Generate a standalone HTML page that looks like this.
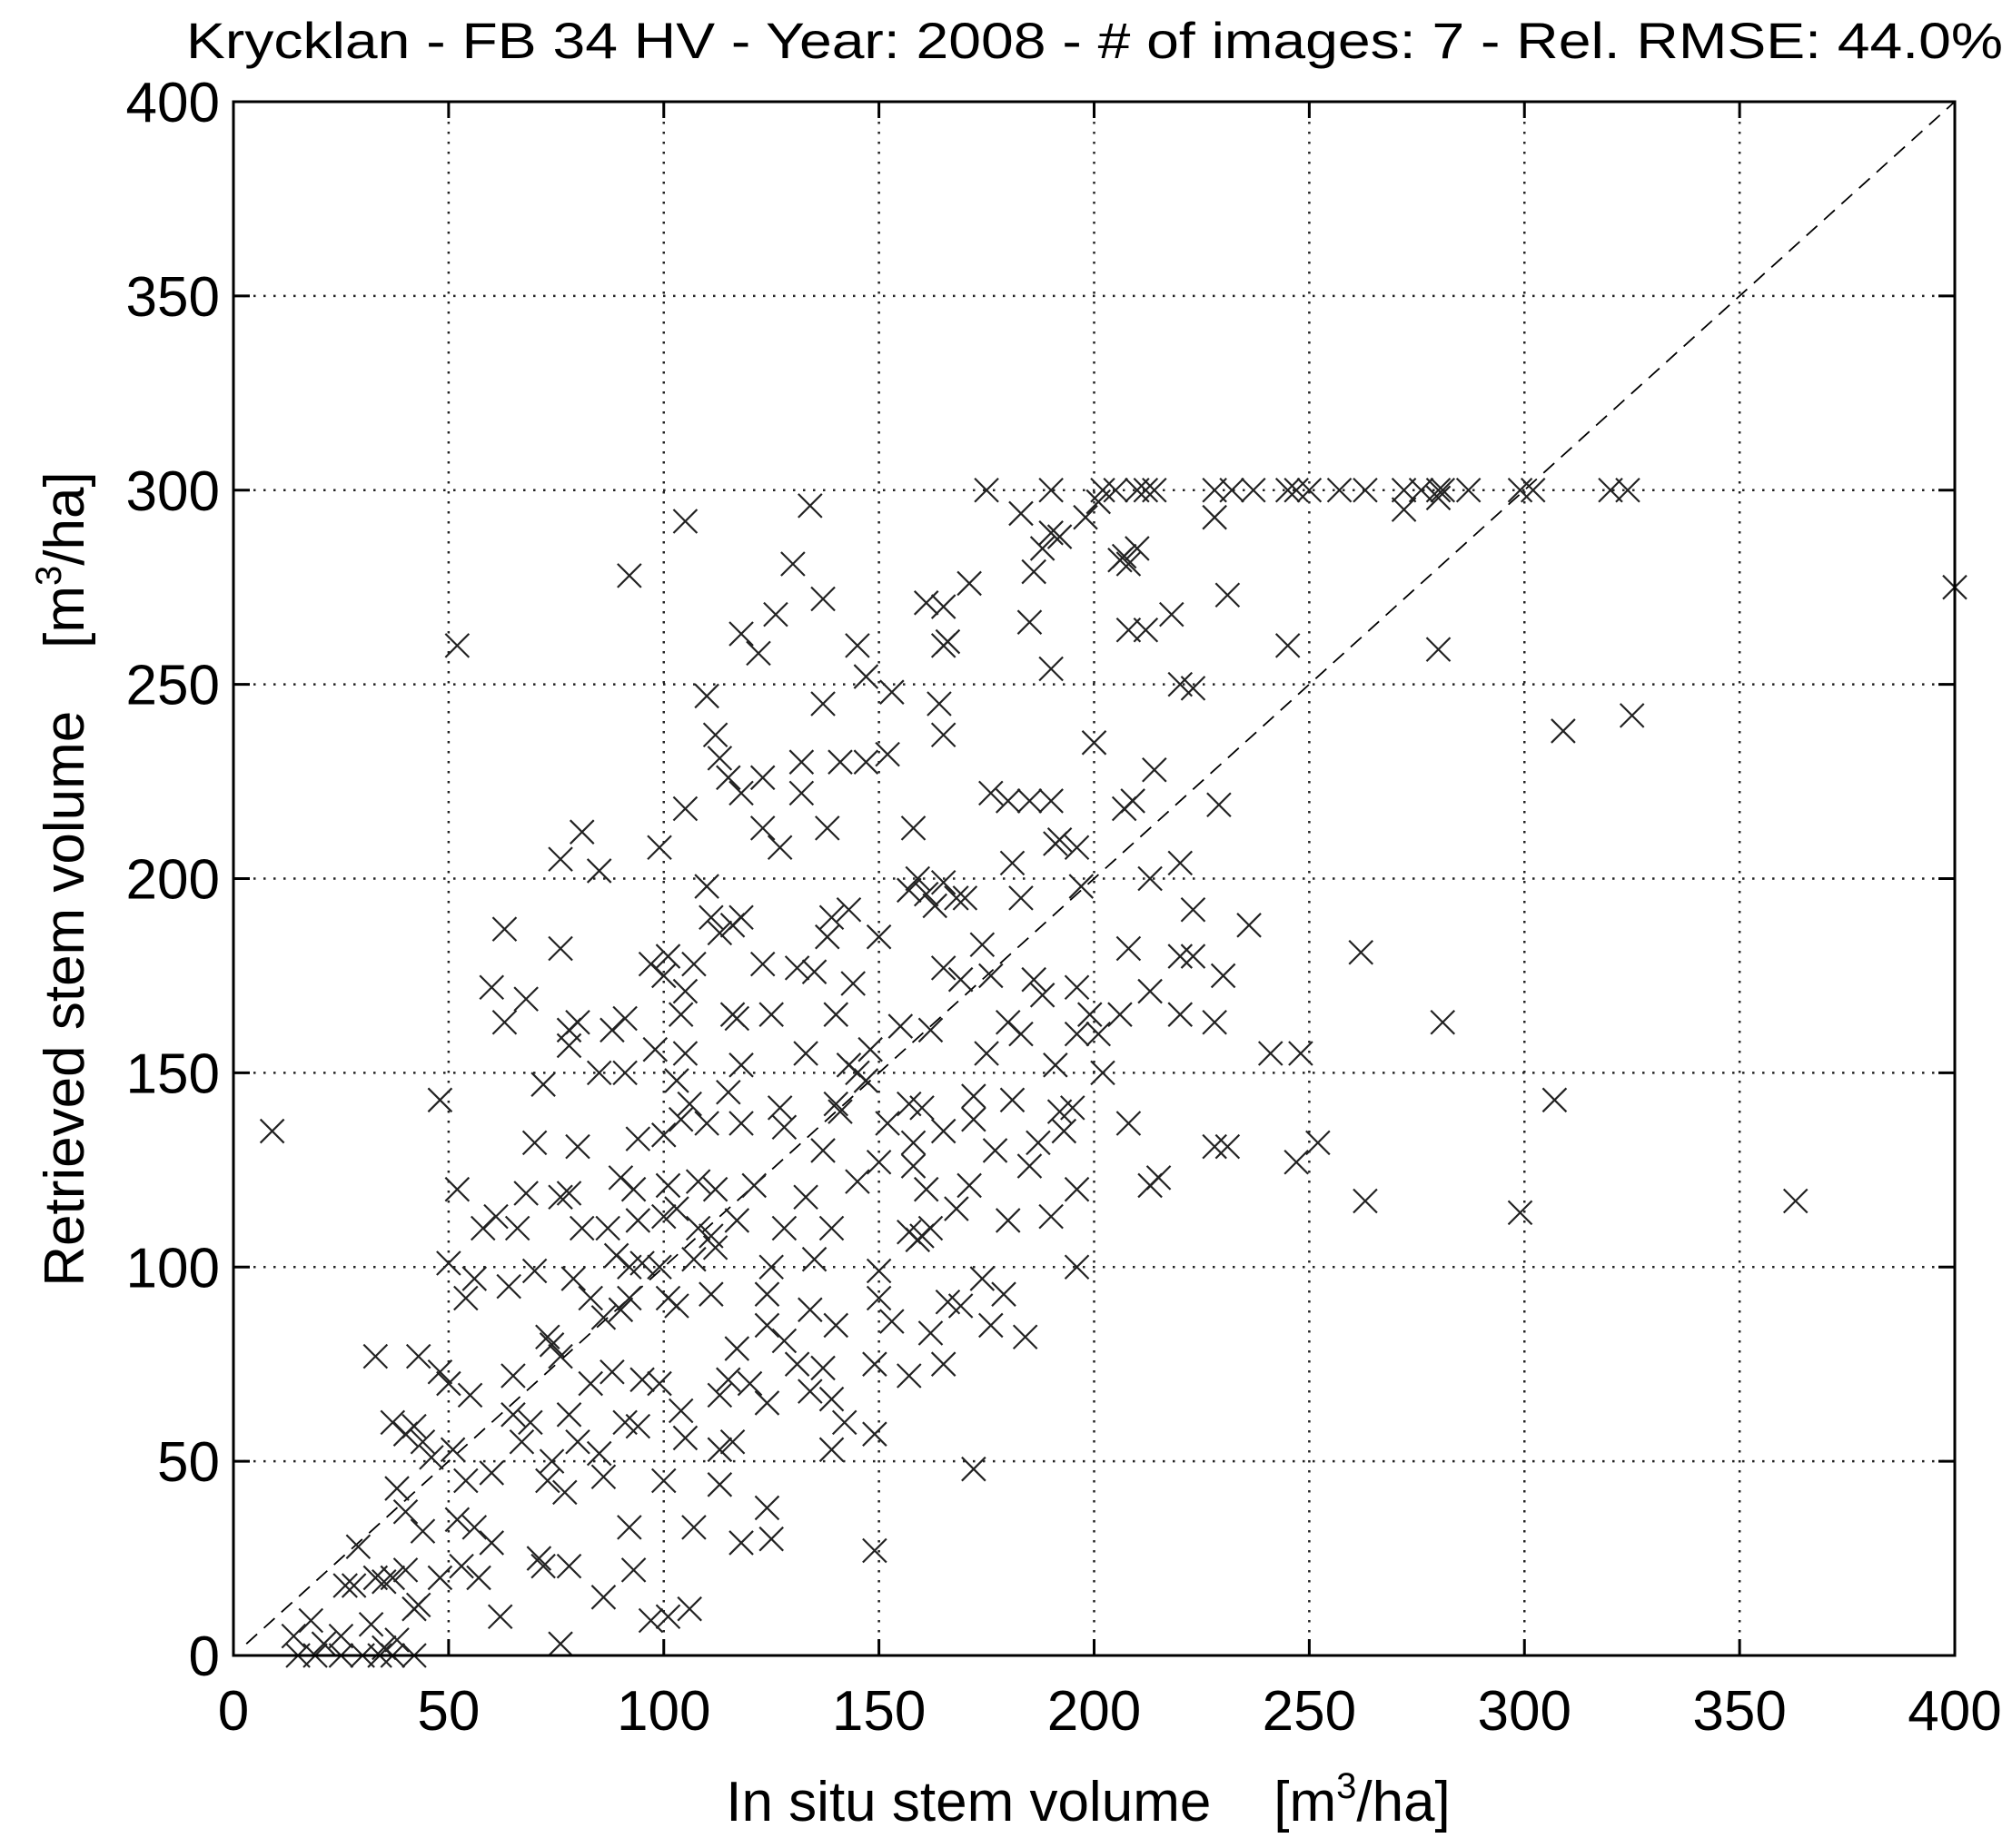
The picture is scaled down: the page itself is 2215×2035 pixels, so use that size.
<!DOCTYPE html>
<html><head><meta charset="utf-8"><title>Krycklan scatter</title>
<style>html,body{margin:0;padding:0;background:#fff;}svg{display:block;font-family:"Liberation Sans",Arial,sans-serif;}</style>
</head><body>
<svg id="chart" width="2215" height="2035" viewBox="0 0 2215 2035" xmlns="http://www.w3.org/2000/svg">
<rect width="2215" height="2035" fill="#fff"/>
<text x="205" y="64" font-size="56" textLength="2000" lengthAdjust="spacingAndGlyphs" fill="#000">Krycklan - FB 34 HV - Year: 2008 - # of images: 7 - Rel. RMSE: 44.0%</text>
<g id="grid"></g>
<g id="ticks"></g>
<line id="diag" stroke="#000" stroke-width="1.8" stroke-dasharray="16,10"/>
<g id="points"></g>
<rect id="frame" fill="none" stroke="#000" stroke-width="3"/>
<text x="1198" y="2005" font-size="62" text-anchor="middle" fill="#000">In situ stem volume&#160;&#160;&#160;&#160;[m<tspan dy="-25" font-size="40">3</tspan><tspan dy="25">/ha]</tspan></text>
<text transform="translate(92,968) rotate(-90)" font-size="62" text-anchor="middle" fill="#000">Retrieved stem volume&#160;&#160;&#160;&#160;[m<tspan dy="-25" font-size="40">3</tspan><tspan dy="25">/ha]</tspan></text>
</svg>
<script>
const xTicks = [0,50,100,150,200,250,300,350,400];
const yTicks = [0,50,100,150,200,250,300,350,400];
const xs = [175,190,202,205,210,212,214,228,232,237,245,247,250,257,263,272,276,280,281,287,299,302,320,324,
134,105,183,198,201,228,272,280,190,192,
92,130,188,186,206,207,208,210,
137,161,165,171,231,126,
52,118,122,145,166,165,208,212,218,245,280,185,
147,190,153,220,164,165,200,223,325,309,110,112,113,115,118,123,132,141,137,147,152,170,
105,132,138,176,180,185,190,207,209,229,214,123,127,158,
81,99,76,85,139,157,159,161,165,168,196,220,223,213,197,181,183,
63,110,111,116,123,138,143,150,163,174,191,192,208,220,230,236,262,76,118,113,
60,68,97,100,101,105,107,125,131,135,144,165,169,176,186,188,196,213,223,
63,78,80,88,91,104,116,117,140,155,162,180,183,199,206,220,228,281,
78,85,98,105,118,133,143,145,148,175,191,196,201,241,248,
48,72,91,103,106,115,127,140,147,157,160,172,181,192,195,202,307,
9,70,80,94,100,104,110,118,128,137,141,152,158,165,172,177,187,193,208,228,231,252,
52,61,68,76,78,90,93,101,108,112,121,133,145,150,158,161,171,185,196,213,247,215,
58,66,81,87,94,100,103,108,111,117,128,139,157,160,168,180,190,263,299,363,
50,56,64,79,89,92,95,99,107,112,125,135,150,159,162,174,196,
54,70,83,90,92,103,111,124,124,134,140,150,162,166,169,179,
73,86,101,117,128,153,176,137,
33,43,48,50,65,74,76,83,88,95,99,115,120,131,139,149,157,165,184,
55,65,69,78,91,104,113,124,134,142,
37,40,42,44,51,67,74,80,85,94,105,116,139,149,172,113,
38,46,54,60,73,77,86,100,113,
40,44,52,56,60,71,78,92,107,118,124,125,
26,29,33,35,37,40,43,48,53,57,72,86,93,97,101,106,149,
14,18,21,25,28,32,35,38,42,62,76,
15,19,25,30,34,37,42,400];
const ys = [300,300,300,300,300,300,300,300,300,300,300,300,300,300,300,300,300,300,300,300,300,300,300,300,
296,292,294,293,297,293,295,298,289,288,
278,281,285,279,282,283,281,285,
272,271,270,276,273,268,
260,263,258,260,261,260,264,264,268,260,259,266,
252,254,248,250,245,237,235,249,242,238,247,237,231,226,222,226,230,230,245,230,232,195,
218,222,213,222,220,220,220,218,220,219,228,213,208,213,
212,208,205,202,190,197,200,196,199,195,208,204,192,200,198,204,195,
187,198,190,188,178,185,192,185,193,183,209,210,182,180,175,188,181,182,190,186,
172,169,178,175,180,171,178,165,177,176,173,177,174,175,174,170,172,171,180,
163,161,163,161,164,165,165,164,165,162,161,163,160,165,165,165,163,163,
157,150,156,155,152,155,152,150,156,155,152,160,160,155,155,
143,147,150,148,142,145,141,142,148,142,141,144,143,140,141,150,143,
135,132,131,133,134,138,137,137,136,130,140,137,132,135,138,130,132,135,137,131,131,132,
120,113,119,118,119,123,120,121,122,120,121,118,122,127,126,120,121,126,120,121,127,123,
110,110,110,110,112,113,115,110,108,112,110,110,109,108,115,112,113,117,114,117,
101,97,95,97,103,100,101,100,102,105,100,102,99,107,110,97,100,
92,99,92,89,92,90,93,93,85,89,85,92,83,91,90,93,
82,87,92,79,81,86,85,74,
77,77,73,70,72,80,77,70,73,71,70,71,70,75,66,75,72,75,82,
67,62,60,62,60,63,67,65,68,60,
60,57,59,55,53,55,50,55,52,59,56,55,53,57,48,53,
43,51,45,47,45,42,46,45,44,
37,32,35,33,29,25,23,33,33,29,38,30,
18,28,20,19,20,22,13,20,23,20,23,15,22,9,10,12,27,
5,9,3,5,18,8,2,4,12,10,3,
0,0,0,0,0,0,0,275];
const NS='http://www.w3.org/2000/svg';
const X0=257,X1=2152,Y0=1823,Y1=112;
function sx(v){return X0+(v-0)/400*(X1-X0);}
function sy(v){return Y0-(v-0)/400*(Y0-Y1);}
function mk(tag,attrs,parent){const e=document.createElementNS(NS,tag);for(const k in attrs)e.setAttribute(k,attrs[k]);parent.appendChild(e);return e;}
const grid=document.getElementById('grid'),ticks=document.getElementById('ticks'),pts=document.getElementById('points');
const fr=document.getElementById('frame');
fr.setAttribute('x',X0);fr.setAttribute('y',Y1);fr.setAttribute('width',X1-X0);fr.setAttribute('height',Y0-Y1);
const dg=document.getElementById('diag');
dg.setAttribute('x1',sx(3));dg.setAttribute('y1',sy(3));dg.setAttribute('x2',sx(400));dg.setAttribute('y2',sy(400));
xTicks.forEach(t=>{
  if(t>0&&t<400){const g=mk('line',{x1:sx(t),x2:sx(t),y1:Y1,y2:Y0,stroke:'#222','stroke-width':2.5,'stroke-dasharray':'2.5,8.5'},grid);
  
  }
  const a=mk('line',{x1:sx(t),x2:sx(t),y1:Y0,y2:Y0-18,stroke:'#000','stroke-width':3},ticks);
  
  
  const b=mk('line',{x1:sx(t),x2:sx(t),y1:Y1,y2:Y1+18,stroke:'#000','stroke-width':3},ticks);
  
  
  const l=mk('text',{x:sx(t),y:1905,'font-size':62,'text-anchor':'middle',fill:'#000'},ticks);
  l.textContent=t;
  
  
});
yTicks.forEach(t=>{
  if(t>0&&t<400){const g=mk('line',{x1:X0,x2:X1,y1:sy(t),y2:sy(t),stroke:'#222','stroke-width':2.5,'stroke-dasharray':'2.5,8.5'},grid);
  
  }
  const a=mk('line',{x1:X0,x2:X0+18,y1:sy(t),y2:sy(t),stroke:'#000','stroke-width':3},ticks);
  
  
  const b=mk('line',{x1:X1,x2:X1-18,y1:sy(t),y2:sy(t),stroke:'#000','stroke-width':3},ticks);
  
  
  const l=mk('text',{x:242,y:sy(t)+22,'font-size':62,'text-anchor':'end',fill:'#000'},ticks);
  l.textContent=t;
  
  
});
const H=13;
for(let i=0;i<xs.length;i++){
  const cx=sx(xs[i]),cy=sy(ys[i]);
  const p=mk('path',{d:`M${cx-H},${cy-H}L${cx+H},${cy+H}M${cx-H},${cy+H}L${cx+H},${cy-H}`,stroke:'#222','stroke-width':2.2,fill:'none'},pts);
  
  
}
</script>
</body></html>
